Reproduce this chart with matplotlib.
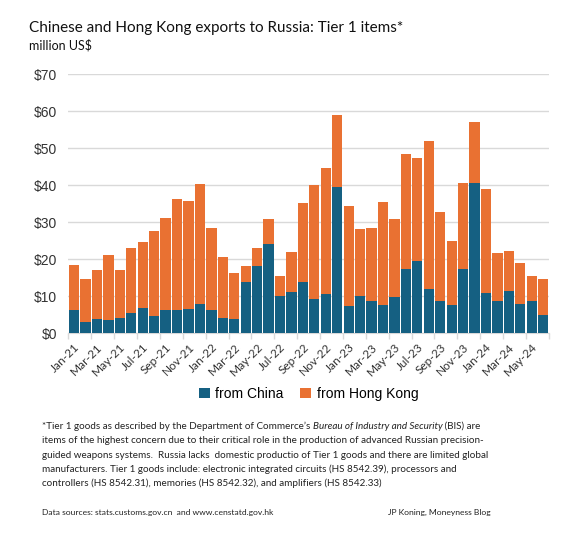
import matplotlib
matplotlib.use("Agg")
import matplotlib.pyplot as plt
import numpy as np

# monthly values, million US$
months = ["Jan-21", "Feb-21", "Mar-21", "Apr-21", "May-21", "Jun-21", "Jul-21", "Aug-21",
          "Sep-21", "Oct-21", "Nov-21", "Dec-21", "Jan-22", "Feb-22", "Mar-22", "Apr-22",
          "May-22", "Jun-22", "Jul-22", "Aug-22", "Sep-22", "Oct-22", "Nov-22", "Dec-22",
          "Jan-23", "Feb-23", "Mar-23", "Apr-23", "May-23", "Jun-23", "Jul-23", "Aug-23",
          "Sep-23", "Oct-23", "Nov-23", "Dec-23", "Jan-24", "Feb-24", "Mar-24", "Apr-24",
          "May-24", "Jun-24"]
china = [6.2, 3.0, 3.8, 3.5, 4.1, 5.4, 6.8, 4.6, 6.2, 6.2, 6.5, 7.8,
         6.2, 4.1, 3.8, 13.8, 18.1, 24.1, 10.0, 11.1, 13.8, 9.2, 10.5, 39.5,
         7.3, 10.0, 8.7, 7.6, 9.7, 17.3, 19.5, 11.9, 8.7, 7.6, 17.3, 40.6,
         10.8, 8.7, 11.4, 7.8, 8.7, 4.9]
total = [18.4, 14.6, 17.0, 21.1, 17.0, 23.0, 24.6, 27.6, 31.1, 36.2, 35.7, 40.3,
         28.4, 20.6, 16.2, 18.1, 23.0, 30.8, 15.4, 21.9, 35.2, 40.0, 44.6, 59.0,
         34.4, 28.1, 28.4, 35.4, 30.8, 48.4, 47.3, 51.9, 32.7, 24.9, 40.6, 57.1,
         39.0, 21.6, 22.2, 18.9, 15.4, 14.6]
hong_kong = [t - c for t, c in zip(total, china)]

blue = "#156082"
orange = "#E97132"
main_font = ["Lato", "DejaVu Sans"]

fig = plt.figure(figsize=(5.76, 5.36), dpi=100)
ax = fig.add_axes([0.1186, 0.3787, 0.8344, 0.4827])

x = np.arange(len(months))
ax.bar(x, china, width=0.9, color=blue, label="from China", zorder=3)
ax.bar(x, hong_kong, width=0.9, bottom=china, color=orange, label="from Hong Kong", zorder=3)

ax.set_xlim(-0.5, len(months) - 0.5)
ax.set_ylim(0, 70)
ax.set_yticks(range(0, 71, 10))
ax.set_yticklabels([f"${v}" for v in range(0, 71, 10)], fontsize=10,
                   family="Liberation Sans", color="#333333")
ax.grid(axis="y", color="#D9D9D9", linewidth=1, zorder=0)
ax.tick_params(axis="y", length=0, pad=8)

ax.set_xticks(x[::2])
ax.set_xticklabels(months[::2], rotation=45, ha="right", rotation_mode="anchor",
                   fontsize=8.6, family=main_font, color="#333333")
ax.tick_params(axis="x", which="major", length=0, pad=6)
ax.set_xticks(np.arange(-0.5, len(months), 2), minor=True)
ax.tick_params(axis="x", which="minor", length=4, color="#D9D9D9", width=1)

for s in ["top", "right", "left"]:
    ax.spines[s].set_visible(False)
ax.spines["bottom"].set_color("#D9D9D9")

ax.legend(loc="upper center", bbox_to_anchor=(0.5, -0.16), ncol=2, frameon=False,
          handlelength=0.8, handleheight=0.8, handletextpad=0.4, columnspacing=1.2,
          prop={"family": "Liberation Sans", "size": 10})

fig.text(0.05, 0.94, "Chinese and Hong Kong exports to Russia: Tier 1 items*",
         fontsize=11, family=main_font, color="#111111")
fig.text(0.05, 0.908, "million US$", fontsize=9, family=main_font, color="#111111")

# footnote, first line has an italic part
y0 = 0.2
line_h = 0.0268
fs = 7.15
w = fig.bbox.width
t = fig.text(0.0725, y0, "*Tier 1 goods as described by the Department of Commerce\u2019s ",
             fontsize=fs, family=main_font, color="#222222")
fig.canvas.draw()
bb = t.get_window_extent()
t2 = fig.text(bb.x1 / w, y0, "Bureau of Industry and Security",
              fontsize=fs, family=main_font, style="italic", color="#222222")
fig.canvas.draw()
bb2 = t2.get_window_extent()
fig.text(bb2.x1 / w, y0, " (BIS) are", fontsize=fs, family=main_font, color="#222222")
lines = [
    "items of the highest concern due to their critical role in the production of advanced Russian precision-",
    "guided weapons systems.  Russia lacks  domestic productio of Tier 1 goods and there are limited global",
    "manufacturers. Tier 1 goods include: electronic integrated circuits (HS 8542.39), processors and",
    "controllers (HS 8542.31), memories (HS 8542.32), and amplifiers (HS 8542.33)",
]
for i, line in enumerate(lines):
    fig.text(0.0725, y0 - (i + 1) * line_h, line, fontsize=fs, family=main_font, color="#222222")

fig.text(0.0725, 0.04, "Data sources: stats.customs.gov.cn  and www.censtatd.gov.hk",
         fontsize=6.1, family=main_font, color="#222222")
fig.text(0.851, 0.04, "JP Koning, Moneyness Blog", fontsize=6.1, ha="right",
         family=main_font, color="#222222")

fig.savefig("out.png", dpi=100)
